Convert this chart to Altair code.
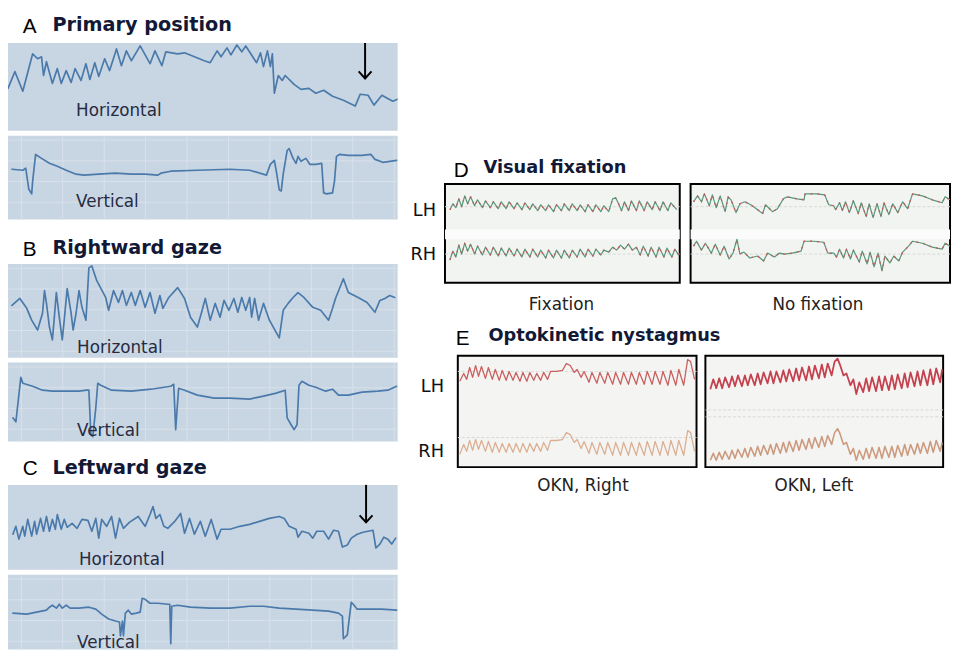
import altair as alt
import pandas as pd

# ---------------- data ----------------
# Left column strips: (t = position along strip, d = downward deflection of the pen)
A_horizontal = [(0,46),(7,29),(15,49),(25,11),(30,16),(34,14),(36,33),(39,19),(45,41),(50,26),
    (54,41),(59,28),(64,40),(68,26),(74,38),(79,21),(83,37),(88,20),(92,34),(98,16),
    (103,28),(110,6),(115,23),(120,8),(125,18),(134,3),(144,21),(149,8),(156,23),(160,9),
    (172,11),(179,10),(189,14),(199,18),(205,20),(212,8),(216,14),(222,5),(226,12),(232,2),
    (237,9),(241,3),(252,20),(256,10),(259,24),(263,8),(266,24),(268,11),(270,51),(274,33),
    (278,38),(281,33),(290,42),(297,47),(305,46),(312,51),(320,48),(329,54),(340,58),(352,64),
    (357,52),(365,53),(371,63),(379,53),(390,59),(395,57)]
A_vertical = [(4,34),(15,35),(18,33),(21,54),(24,59),(25,46),(28,19),(34,23),(42,28),(50,31),
    (59,35),(69,39),(77,40),(92,39),(109,38),(125,39),(139,39),(152,40),(155,38),(165,36),
    (192,35),(225,34),(245,35),(262,40),(266,29),(270,25),(272,36),(275,55),(277,56),(279,39),
    (283,15),(285,13),(289,23),(292,28),(294,21),(297,26),(302,23),(306,29),(312,29),(318,28),
    (320,58),(323,59),(329,58),(331,46),(333,21),(336,19),(345,20),(359,20),(368,19),(372,24),
    (380,27),(394,25)]
B_horizontal = [(4,42),(12,35),(19,45),(24,57),(30,67),(35,50),(37,27),(39,40),(42,64),(45,77),
    (47,54),(49,29),(52,54),(55,77),(57,57),(60,25),(64,50),(66,67),(69,50),(72,27),
    (75,44),(79,57),(82,4),(85,2),(90,17),(99,34),(102,47),(107,27),(112,39),(116,27),
    (120,42),(125,29),(129,42),(134,27),(139,44),(144,29),(149,50),(154,32),(157,45),(163,34),
    (172,24),(179,35),(185,54),(192,64),(196,50),(200,35),(205,57),(210,40),(215,54),(219,37),
    (224,47),(229,35),(233,49),(237,34),(241,47),(245,34),(247,54),(250,35),(254,57),(259,40),
    (265,57),(275,75),(279,47),(284,40),(289,34),(294,29),(300,34),(309,44),(317,47),(325,57),
    (329,45),(332,35),(340,15),(345,29),(355,34),(364,39),(372,49),(377,37),(382,35),(387,32),
    (392,34)]
B_vertical = [(5,56),(8,60),(13,15),(15,21),(25,24),(35,28),(45,29),(59,29),(72,29),(80,28),
    (82,28),(84,73),(86,75),(89,46),(91,21),(94,23),(105,28),(125,29),(145,27),(165,24),
    (168,22),(170,68),(171,53),(173,26),(179,28),(192,33),(209,36),(225,36),(245,37),(259,34),
    (272,31),(281,28),(283,56),(287,63),(290,68),(293,63),(295,23),(298,19),(305,23),(312,25),
    (322,29),(329,27),(335,33),(345,33),(359,30),(375,29),(385,28),(394,24)]
C_horizontal = [(5,50),(8,42),(11,55),(15,42),(17,52),(20,35),(24,52),(27,37),(29,50),(33,34),
    (36,47),(39,32),(42,47),(45,35),(48,45),(50,30),(54,45),(57,35),(60,43),(65,39),
    (70,44),(75,35),(81,36),(85,47),(89,34),(92,54),(95,35),(100,42),(105,32),(109,54),
    (113,34),(117,44),(123,38),(132,32),(139,42),(144,30),(147,22),(150,34),(154,30),(158,42),
    (162,44),(169,37),(175,29),(179,49),(184,34),(189,50),(195,37),(200,52),(206,35),(212,55),
    (216,45),(225,45),(235,42),(245,40),(255,37),(265,34),(275,32),(280,34),(285,42),(292,45),
    (294,53),(298,47),(305,49),(309,54),(313,47),(320,47),(325,55),(330,46),(335,47),(339,63),
    (344,61),(348,54),(354,50),(360,48),(370,46),(373,64),(377,60),(381,53),(385,55),(389,60),
    (393,54)]
C_vertical = [(5,39),(19,40),(29,38),(39,36),(42,33),(45,31),(49,34),(52,30),(55,34),(59,31),
    (63,34),(72,34),(82,33),(89,35),(95,40),(102,45),(109,47),(113,48),(114,62),(116,47),
    (117,62),(119,39),(122,36),(125,40),(130,39),(134,38),(136,24),(139,25),(144,29),(152,29),
    (162,30),(164,30),(165,70),(166,32),(172,31),(185,33),(205,34),(225,34),(245,32),(259,32),
    (275,34),(292,35),(309,36),(325,37),(335,39),(339,42),(340,65),(344,61),(346,44),(348,28),
    (350,30),(354,35),(365,35),(379,35),(394,36)]
A_arrow = (362, 0, 36)   # (t, from, to)
C_arrow = (363, 0, 38)

# Right: D (visual fixation) and E (optokinetic), d = downward deflection inside the box
D_fix_LH = [(5,26),(8,20),(11,24),(14,15),(17,23),(20,12),(23,20),(26,13),(30,22),(33,16),
    (38,24),(41,17),(46,24),(49,18),(54,25),(57,18),(62,25),(65,18),(70,25),(73,19),
    (78,26),(81,19),(86,26),(89,20),(94,27),(97,21),(102,27),(105,21),(110,28),(113,21),
    (118,27),(121,20),(126,27),(129,20),(134,27),(137,21),(142,28),(145,21),(150,28),(153,21),
    (158,28),(161,22),(166,28),(170,15),(173,14),(176,20),(179,27),(182,18),(186,27),(189,17),
    (194,27),(197,17),(202,27),(205,18),(210,26),(213,18),(218,27),(221,18),(226,27),(229,19),
    (235,26)]
D_fix_RH = [(5,77),(8,68),(11,74),(14,62),(17,71),(20,60),(23,68),(26,61),(30,71),(33,63),
    (38,72),(41,64),(46,72),(49,64),(54,73),(57,65),(62,73),(65,65),(70,73),(73,66),
    (78,74),(81,66),(86,74),(89,66),(94,74),(97,67),(102,75),(105,67),(110,75),(113,67),
    (118,75),(121,67),(126,75),(129,67),(134,74),(137,66),(142,74),(145,66),(150,73),(153,66),
    (158,72),(161,67),(166,69),(170,64),(174,67),(178,62),(182,66),(186,61),(190,67),(194,64),
    (198,72),(201,63),(206,73),(209,64),(214,74),(217,64),(222,74),(225,65),(230,74),(233,66),
    (237,72)]
D_nofix_LH = [(3,18),(7,12),(11,18),(14,10),(19,22),(22,11),(26,24),(30,12),(35,28),(38,13),
    (41,16),(46,29),(50,20),(55,18),(61,21),(68,26),(73,30),(76,21),(83,28),(88,25),
    (94,15),(98,13),(108,15),(115,16),(116,10),(128,10),(136,11),(140,21),(145,22),(147,26),
    (151,19),(154,27),(157,18),(161,29),(165,17),(170,30),(173,19),(178,33),(181,20),(185,34),
    (189,20),(193,33),(196,19),(201,31),(205,20),(210,29),(215,18),(220,25),(225,10),(235,12),
    (245,16),(255,19),(258,13),(263,16)]
D_nofix_RH = [(3,63),(6,58),(11,67),(15,60),(21,70),(25,61),(30,72),(34,63),(39,76),(43,70),
    (47,56),(50,71),(54,69),(60,75),(68,73),(74,78),(78,70),(85,74),(90,70),(95,71),
    (103,70),(112,68),(115,58),(125,58),(135,59),(139,70),(145,70),(148,74),(151,66),(155,75),
    (158,66),(162,76),(165,67),(171,79),(174,68),(179,81),(182,69),(186,84),(190,70),(194,88),
    (197,73),(202,80),(206,73),(211,78),(215,69),(221,63),(225,58),(235,60),(245,64),(255,66),
    (258,60),(263,63)]
E_right_LH = [(2,26),(6,18),(9,24),(12,12),(15,22),(18,10),(21,21),(24,11),(28,23),(31,12),
    (35,24),(38,14),(42,25),(45,15),(49,25),(52,16),(56,25),(59,17),(63,26),(66,17),
    (70,26),(73,17),(77,25),(80,18),(84,25),(87,17),(91,24),(94,16),(100,16),(106,15),
    (110,8),(114,10),(118,17),(121,14),(125,22),(128,16),(133,27),(136,17),(141,28),(144,17),
    (149,28),(152,17),(157,29),(160,17),(165,29),(168,17),(173,29),(176,17),(181,29),(184,17),
    (189,29),(192,16),(197,29),(200,16),(205,29),(208,16),(213,30),(216,15),(221,30),(224,14),
    (229,30),(233,4),(236,6),(240,24)]
E_right_RH = [(2,100),(6,90),(9,97),(12,86),(15,96),(18,85),(21,95),(24,86),(28,97),(31,87),
    (35,98),(38,88),(42,98),(45,89),(49,98),(52,89),(56,98),(59,89),(63,98),(66,89),
    (70,98),(73,89),(77,97),(80,89),(84,97),(87,88),(91,96),(94,86),(100,86),(106,85),
    (110,78),(114,80),(118,88),(121,85),(125,94),(128,87),(133,99),(136,88),(141,100),(144,88),
    (149,100),(152,88),(157,101),(160,88),(165,101),(168,88),(173,101),(176,88),(181,101),(184,88),
    (189,101),(192,87),(197,101),(200,87),(205,101),(208,87),(213,101),(216,86),(221,101),(224,86),
    (229,101),(233,76),(236,78),(240,97)]
E_left_LH = [(5,34),(8,24),(11,33),(14,23),(17,33),(20,22),(24,32),(27,21),(30,31),(33,20),
    (37,31),(40,20),(43,30),(46,19),(50,30),(53,18),(56,29),(59,17),(63,28),(66,16),
    (69,28),(72,16),(76,27),(79,15),(82,26),(85,14),(89,26),(92,13),(95,25),(98,12),
    (102,25),(105,11),(108,24),(111,10),(115,23),(118,9),(121,22),(124,8),(128,20),(131,6),
    (134,3),(136,8),(140,20),(143,18),(147,30),(150,24),(153,39),(156,27),(160,37),(163,23),
    (166,36),(169,22),(173,36),(176,21),(179,35),(182,21),(186,35),(189,20),(192,34),(195,19),
    (199,33),(202,18),(205,32),(208,17),(212,31),(215,16),(218,30),(221,15),(225,30),(228,14),
    (231,29),(234,13),(238,27),(240,14)]
E_left_RH = [(5,106),(8,99),(11,106),(14,98),(17,105),(20,97),(24,105),(27,96),(30,104),(33,95),
    (37,103),(40,94),(43,103),(46,93),(50,102),(53,92),(56,101),(59,91),(63,100),(66,90),
    (69,100),(72,89),(76,99),(79,88),(82,98),(85,87),(89,97),(92,86),(95,96),(98,85),
    (102,95),(105,84),(108,94),(111,83),(115,93),(118,82),(121,92),(124,81),(128,90),(131,78),
    (134,74),(136,78),(140,90),(143,88),(147,100),(150,94),(153,106),(156,96),(160,105),(163,94),
    (166,104),(169,93),(173,104),(176,93),(179,104),(182,92),(186,103),(189,92),(192,103),(195,91),
    (199,102),(202,90),(205,101),(208,90),(212,100),(215,89),(218,99),(221,88),(225,99),(228,87),
    (231,98),(234,86),(238,97),(240,88)]

# Texts
left_letters = ["A", "B", "C"]
left_titles = ["Primary position", "Rightward gaze", "Leftward gaze"]
strip_labels = ["Horizontal", "Vertical"]
right_letters = ["D", "E"]
right_titles = ["Visual fixation", "Optokinetic nystagmus"]
D_captions = ["Fixation", "No fixation"]
E_captions = ["OKN, Right", "OKN, Left"]
eye_labels = ["LH", "RH"]

# ---------------- styling ----------------
FONT = "DejaVu Sans"
LETTER_FONT = "Liberation Sans"
BG = "#c8d5e2"
GRID = "#d8e2eb"
BLUE = "#4a7aab"
NAVY = "#121936"
LABEL = "#262b42"
W_LEFT = 395
GRID_X = [13 + 42 * k for k in range(10)]
GRID_Y = [4 + 21 * k for k in range(5)]


def text_layer(s, x, y, size, weight="normal", font=FONT, color="#111111",
               align="left", baseline="alphabetic"):
    return alt.Chart(pd.DataFrame({"s": [s]})).mark_text(
        font=font, fontSize=size, fontWeight=weight, color=color,
        align=align, baseline=baseline,
    ).encode(text="s:N", x=alt.value(x), y=alt.value(y))


def blank_chart(w, h, layers):
    return alt.layer(*layers).properties(width=w, height=h)


def strip(pairs, h, label, lx, ly, arrow=None):
    df = pd.DataFrame(pairs, columns=["t", "d"])
    df["i"] = range(len(df))
    xs = alt.Scale(domain=[0, W_LEFT], nice=False, zero=False)
    ys = alt.Scale(domain=[0, h], nice=False, zero=False, reverse=True)
    gax = dict(grid=True, gridColor=GRID, gridWidth=1, labels=False, ticks=False,
               domain=False, title=None)
    line = alt.Chart(df).mark_line(
        color=BLUE, strokeWidth=1.7, clip=True, strokeJoin="round", strokeCap="round"
    ).encode(
        x=alt.X("t:Q", scale=xs, axis=alt.Axis(values=GRID_X, **gax)),
        y=alt.Y("d:Q", scale=ys, axis=alt.Axis(values=[g for g in GRID_Y if g < h], **gax)),
        order="i:Q",
    )
    layers = [line, text_layer(label, lx, ly, 17, color=LABEL, baseline="middle")]
    if arrow is not None:
        at, a0, a1 = arrow
        adf = pd.DataFrame({"t": [at], "a0": [a0], "a1": [a1]})
        layers.append(alt.Chart(adf).mark_rule(color="black", strokeWidth=2).encode(
            x=alt.X("t:Q", scale=xs, axis=None),
            y=alt.Y("a0:Q", scale=ys, axis=None), y2="a1:Q"))
        layers.append(alt.Chart(adf).mark_point(
            shape="M-1,-1.1L0,0L1,-1.1", filled=False, color="black", strokeWidth=2,
            size=170, opacity=1).encode(
            x=alt.X("t:Q", scale=xs, axis=None),
            y=alt.Y("a1:Q", scale=ys, axis=None)))
    return alt.layer(*layers).properties(
        width=W_LEFT, height=h, view=alt.ViewBackground(fill=BG, strokeWidth=0))


def box_panel(w, h, traces, bg, band=None, guides=None):
    xs = alt.Scale(domain=[0, w], nice=False, zero=False)
    ys = alt.Scale(domain=[0, h], nice=False, zero=False, reverse=True)
    layers = []
    if band is not None:
        bdf = pd.DataFrame({"b0": [band[0]], "b1": [band[1]]})
        layers.append(alt.Chart(bdf).mark_rect(color="#fafbfa").encode(
            y=alt.Y("b0:Q", scale=ys, axis=None), y2="b1:Q",
            x=alt.value(0), x2=alt.value(w)))
    if guides is not None:
        gdf = pd.DataFrame({"g": guides})
        layers.append(alt.Chart(gdf).mark_rule(color="#d6d8d6", strokeWidth=1,
                                               strokeDash=[3, 2]).encode(
            y=alt.Y("g:Q", scale=ys, axis=None)))
    for pairs, color, width, dash in traces:
        df = pd.DataFrame(pairs, columns=["t", "d"])
        df["i"] = range(len(df))
        mk = dict(color=color, strokeWidth=width, clip=True, strokeJoin="round")
        if dash:
            mk["strokeDash"] = dash
        layers.append(alt.Chart(df).mark_line(**mk).encode(
            x=alt.X("t:Q", scale=xs, axis=None),
            y=alt.Y("d:Q", scale=ys, axis=None),
            order="i:Q"))
    return alt.layer(*layers).properties(
        width=w, height=h,
        view=alt.ViewBackground(fill=bg, stroke="black", strokeWidth=2))


# ---------------- left column ----------------
def left_title(i, h, yl, yt):
    return blank_chart(W_LEFT, h, [
        text_layer(left_letters[i], 15, yl, 21, font=LETTER_FONT, color="#000000"),
        text_layer(left_titles[i], 45, yt, 19.5, weight="bold", color=NAVY),
    ])

left = alt.vconcat(
    left_title(0, 26, 21, 19),
    strip(A_horizontal, 89, strip_labels[0], 69, 69, A_arrow),
    strip(A_vertical, 85, strip_labels[1], 69, 67),
    left_title(1, 35, 32, 30),
    strip(B_horizontal, 95, strip_labels[0], 70, 85),
    strip(B_vertical, 80, strip_labels[1], 70, 69),
    left_title(2, 34, 29, 28),
    strip(C_horizontal, 86, strip_labels[0], 72, 76, C_arrow),
    strip(C_vertical, 76, strip_labels[1], 70, 69),
    spacing=5, bounds="flush",
)

# ---------------- right column ----------------
GREEN = "#55977a"
RED = "#c65a58"
D_bg = "#f2f4f2"
E_bg = "#f4f5f3"

def d_traces(lh, rh):
    return [(lh, GREEN, 1.2, None), (lh, RED, 1.3, [2, 5]),
            (rh, GREEN, 1.2, None), (rh, RED, 1.3, [2, 5])]

D1 = box_panel(238, 100, d_traces(D_fix_LH, D_fix_RH), D_bg, band=(46, 56), guides=[23, 71])
D2 = box_panel(263, 100, d_traces(D_nofix_LH, D_nofix_RH), D_bg, band=(46, 56), guides=[23, 71])
E1 = box_panel(242, 113, [(E_right_LH, "#c95f5f", 1.3, None),
                          (E_right_RH, "#dcae92", 1.3, None)], E_bg, guides=[16, 83])
E2 = box_panel(241, 113, [(E_left_LH, "#c4414f", 1.8, None),
                          (E_left_RH, "#cc9a7e", 1.6, None)], E_bg, guides=[55, 62])

labD = blank_chart(22, 100, [
    text_layer(eye_labels[0], 22, 32, 18, align="right"),
    text_layer(eye_labels[1], 22, 77, 18, align="right"),
])
labE = blank_chart(37, 113, [
    text_layer(eye_labels[0], 30, 37, 18, align="right"),
    text_layer(eye_labels[1], 30, 103, 18, align="right"),
])

tD = blank_chart(540, 173, [
    text_layer(right_letters[0], 40, 167, 21, font=LETTER_FONT, color="#000000"),
    text_layer(right_titles[0], 70, 163, 18, weight="bold", color=NAVY),
])
tE = blank_chart(540, 72, [
    text_layer(D_captions[0], 149, 27, 17, color="#222222", align="center"),
    text_layer(D_captions[1], 409, 27, 17, color="#222222", align="center"),
    text_layer(right_letters[1], 42, 62, 21, font=LETTER_FONT, color="#000000"),
    text_layer(right_titles[1], 75, 58, 18, weight="bold", color=NAVY),
])
tF = blank_chart(540, 40, [
    text_layer(E_captions[0], 171, 23, 17, color="#222222", align="center"),
    text_layer(E_captions[1], 405, 23, 17, color="#222222", align="center"),
])

rowD = alt.hconcat(labD, D1, D2, spacing=7)
rowE = alt.hconcat(labE, E1, E2, spacing=5)
right = alt.vconcat(tD, rowD, tE, rowE, tF, spacing=0)

chart = alt.hconcat(left, right, spacing=12).properties(
    padding=0, background="white"
).configure_view(strokeWidth=0)

chart.save("out.html", embed_options={"renderer": "svg", "actions": False})
